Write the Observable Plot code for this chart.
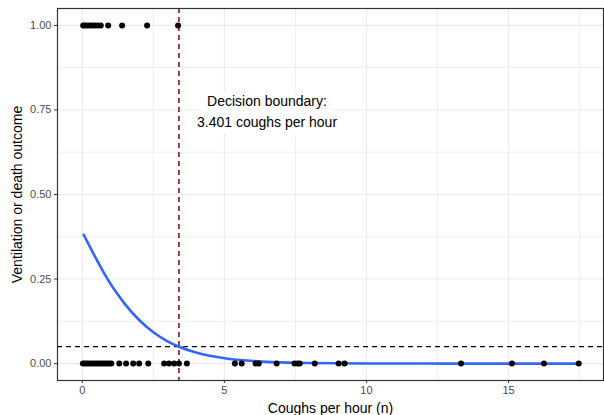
<!DOCTYPE html>
<html>
<head>
<meta charset="utf-8">
<script src="https://cdn.jsdelivr.net/npm/d3@7"></script>
<script src="https://cdn.jsdelivr.net/npm/@observablehq/plot@0.6"></script>
<style>
  html, body { margin: 0; padding: 0; background: #fff; }
  #chart svg { display: block; }
</style>
</head>
<body>
<div id="chart"></div>
<script>
// Observed outcomes: coughs per hour for patients with (1) and without (0) ventilation/death
const coughsOutcome1 = [0.03, 0.1, 0.18, 0.27, 0.35, 0.45, 0.55, 0.65, 0.91, 1.40, 2.28, 3.37];
const coughsOutcome0 = [0.02, 0.08, 0.15, 0.22, 0.3, 0.38, 0.46, 0.54, 0.62, 0.7, 0.78, 0.86, 0.94, 1.02,
  1.30, 1.54, 1.79, 2.0, 2.32, 2.88, 3.05, 3.23, 3.40, 3.68,
  5.37, 5.61, 6.1, 6.21, 6.84, 7.47, 7.58, 7.65, 8.18, 9.02, 9.23,
  13.33, 15.12, 16.25, 17.47];

// Fitted logistic probability curve
const fitX = [0.05, 0.25, 0.5, 0.75, 1, 1.25, 1.5, 2, 2.5, 3, 3.401, 4, 5, 6, 7, 8, 10, 12, 14, 17.47];
const fitP = [0.381, 0.348, 0.308, 0.270, 0.235, 0.204, 0.176, 0.129, 0.0927, 0.066, 0.05, 0.0328,
  0.016, 0.0077, 0.0037, 0.0018, 0.0004, 0.0001, 0, 0];

// Threshold and decision boundary
const probThreshold = 0.05;
const boundary = 3.401;
const boundaryLabel = "Decision boundary:\n3.401 coughs per hour";
const labelPos = {x: 6.5, y: 0.75};

// Axis ticks
const xTicks = [0, 5, 10, 15];
const xMinor = [2.5, 7.5, 12.5, 17.5];
const yTicks = [0, 0.25, 0.5, 0.75, 1];
const yMinor = [0.125, 0.375, 0.625, 0.875];

const points = [
  ...coughsOutcome1.map(x => ({x, y: 1})),
  ...coughsOutcome0.map(x => ({x, y: 0}))
];
const fit = fitX.map((x, i) => ({x, p: fitP[i]}));

const xMax = 17.47, xPad = xMax * 0.05;
const font = "'Liberation Sans', Arial, Helvetica, sans-serif";
const grid = "#EBEBEB";

const chart = Plot.plot({
  width: 604,
  height: 415,
  marginLeft: 57,
  marginRight: 1,
  marginTop: 8,
  marginBottom: 35,
  style: {fontFamily: font, background: "#fff"},
  x: {domain: [-xPad, xMax + xPad]},
  y: {domain: [-0.05, 1.05]},
  marks: [
    Plot.ruleX(xMinor, {stroke: grid, strokeWidth: 0.8}),
    Plot.ruleY(yMinor, {stroke: grid, strokeWidth: 0.8}),
    Plot.ruleX(xTicks, {stroke: grid, strokeWidth: 1.1}),
    Plot.ruleY(yTicks, {stroke: grid, strokeWidth: 1.1}),
    Plot.ruleY([probThreshold], {stroke: "#000", strokeWidth: 1.2, strokeDasharray: "5,4"}),
    Plot.ruleX([boundary], {stroke: "#8B0000", strokeWidth: 1.5, strokeDasharray: "5,4"}),
    Plot.text([labelPos], {
      x: "x", y: "y", text: () => boundaryLabel,
      fontSize: 14, fill: "#000", stroke: "#fff", strokeWidth: 14,
      lineHeight: 1.45, lineAnchor: "middle", textAnchor: "middle"
    }),
    Plot.line(fit, {x: "x", y: "p", stroke: "#3366FF", strokeWidth: 2.6, curve: "monotone-x"}),
    Plot.dot(points, {x: "x", y: "y", r: 3, fill: "#000", stroke: "none"}),
    Plot.frame({stroke: "#333333", strokeWidth: 1.2}),
    Plot.axisX(xTicks, {
      tickSize: 3, tickPadding: 3, fontSize: 11, fill: "#4D4D4D", stroke: "#333333", label: null,
      tickFormat: d3.format("d")
    }),
    Plot.axisY(yTicks, {
      tickSize: 3, tickPadding: 3, fontSize: 11, fill: "#4D4D4D", stroke: "#333333", label: null,
      tickFormat: d3.format(".2f")
    }),
    Plot.text(["Coughs per hour (n)"], {
      frameAnchor: "bottom", dy: 28, fontSize: 14, fill: "#000", lineAnchor: "middle", textAnchor: "middle"
    }),
    Plot.text(["Ventilation or death outcome"], {
      frameAnchor: "left", dx: -40, rotate: -90, fontSize: 14, fill: "#000", lineAnchor: "middle", textAnchor: "middle"
    })
  ]
});

document.getElementById("chart").appendChild(chart);
</script>
</body>
</html>
